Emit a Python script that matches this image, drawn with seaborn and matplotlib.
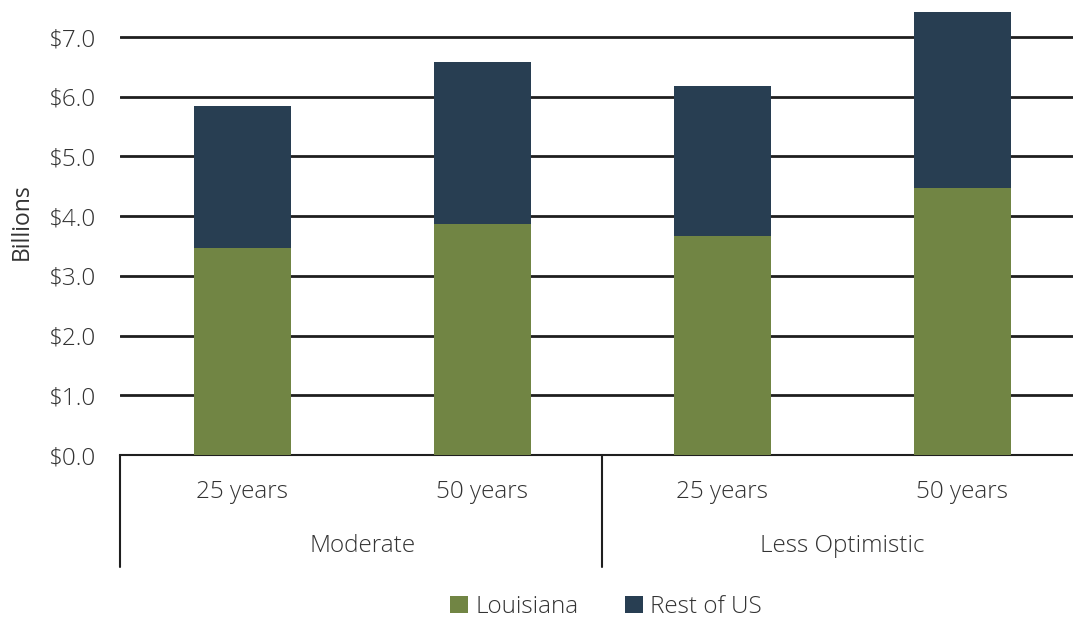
import matplotlib
matplotlib.use("Agg")
import matplotlib.pyplot as plt
import matplotlib.transforms as mtransforms
from matplotlib.patches import Patch
import seaborn as sns
import pandas as pd

# Values in billions of dollars
scenarios = ["Moderate", "Moderate", "Less Optimistic", "Less Optimistic"]
horizons = ["25 years", "50 years", "25 years", "50 years"]
louisiana = [3.47, 3.87, 3.67, 4.47]
rest_of_us = [2.38, 2.71, 2.51, 2.95]
y_ticks = [0, 1, 2, 3, 4, 5, 6, 7]

green = "#718544"
navy = "#283E52"
text_color = "#333333"
fs = 17.5

sns.set_theme(style="white")
plt.rcParams["font.family"] = ["Open Sans", "DejaVu Sans"]
plt.rcParams["font.weight"] = "light"

df = pd.DataFrame({
    "slot": [f"{s}|{h}" for s, h in zip(scenarios, horizons)],
    "horizon": horizons,
    "Louisiana": louisiana,
    "total": [a + b for a, b in zip(louisiana, rest_of_us)],
})

fig = plt.figure(figsize=(10.73, 6.19), dpi=100)
ax = fig.add_axes([120 / 1073, 1 - 455 / 619, 953 / 1073, 455 / 619])

order = list(df["slot"])
sns.barplot(data=df, x="slot", y="total", order=order, color=navy,
            width=0.405, saturation=1, ax=ax, zorder=3)
sns.barplot(data=df, x="slot", y="Louisiana", order=order, color=green,
            width=0.405, saturation=1, ax=ax, zorder=3)
for p in ax.patches:
    p.set_edgecolor("none")
    p.set_linewidth(0)

ax.set_xlim(-0.51, -0.51 + 953 / 240)
ax.set_ylim(0, 7.62)
ax.set_yticks(y_ticks)
ax.set_yticklabels([f"${v:.1f}" for v in y_ticks])
ax.yaxis.grid(True, color="#1f1f1f", linewidth=2.0, zorder=0)
ax.set_axisbelow(True)

for side in ["left", "right", "top"]:
    ax.spines[side].set_visible(False)
ax.spines["bottom"].set_color("#1f1f1f")
ax.spines["bottom"].set_linewidth(1.5)

ax.tick_params(axis="y", length=0, pad=18, labelsize=fs, labelcolor=text_color)
ax.tick_params(axis="x", length=0, pad=18, labelsize=fs, labelcolor=text_color)
ax.set_xticks(range(len(order)))
ax.set_xticklabels(horizons)
ax.set_xlabel("")
ax.set_ylabel("Billions", fontsize=16.5, color=text_color)
ax.yaxis.set_label_coords(-86 / 953, 0.514)

# Group labels and separators under the axis
trans = mtransforms.blended_transform_factory(ax.transData, ax.transAxes)
line_bottom = -112 / 455
for x in [-0.51, 1.5, 3.5]:
    ax.plot([x, x], [0, line_bottom], transform=trans, color="#1f1f1f",
            linewidth=1.5, clip_on=False)
group_names = ["Moderate", "Less Optimistic"]
for i, name in enumerate(group_names):
    ax.text(0.5 + 2 * i, -91 / 455, name, transform=trans, ha="center",
            va="center", fontsize=fs, color=text_color)

handles = [Patch(facecolor=green, edgecolor="none", label="Louisiana"),
           Patch(facecolor=navy, edgecolor="none", label="Rest of US")]
fig.legend(handles=handles, loc="center", bbox_to_anchor=(606 / 1073, 1 - 607 / 619),
           ncol=2, frameon=False, fontsize=fs, handlelength=0.75, handleheight=0.75,
           handletextpad=0.3, columnspacing=1.9, labelcolor=text_color)

fig.savefig("out.png", dpi=100)
